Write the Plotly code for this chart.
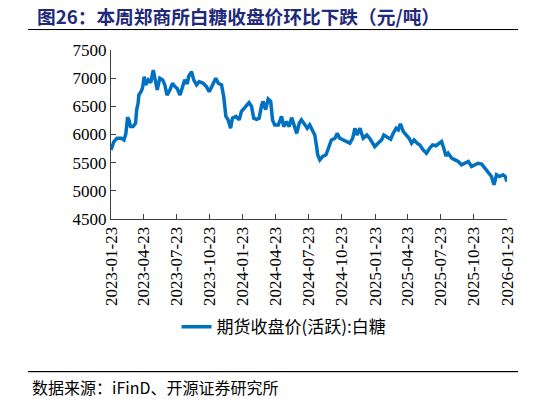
import plotly.graph_objects as go

dates = [
    "2023-01-23", "2023-01-31", "2023-02-09", "2023-02-21", "2023-02-28", "2023-03-05",
    "2023-03-10", "2023-03-14", "2023-03-18", "2023-03-25", "2023-04-01", "2023-04-04",
    "2023-04-08", "2023-04-10", "2023-04-16", "2023-04-20", "2023-04-25", "2023-04-29",
    "2023-05-06", "2023-05-13", "2023-05-20", "2023-05-24", "2023-05-31", "2023-06-07",
    "2023-06-15", "2023-06-21", "2023-06-27", "2023-07-05", "2023-07-12", "2023-07-19",
    "2023-07-25", "2023-08-02", "2023-08-09", "2023-08-15", "2023-08-22", "2023-08-26",
    "2023-09-03", "2023-09-09", "2023-09-17", "2023-09-24", "2023-10-05", "2023-10-14",
    "2023-10-22", "2023-10-31", "2023-11-09", "2023-11-16", "2023-11-25", "2023-12-01",
    "2023-12-07", "2023-12-13", "2023-12-20", "2023-12-25", "2024-01-04", "2024-01-13",
    "2024-01-19", "2024-01-27", "2024-02-03", "2024-02-09", "2024-02-16", "2024-02-22",
    "2024-03-01", "2024-03-08", "2024-03-15", "2024-03-19", "2024-03-26", "2024-04-02",
    "2024-04-09", "2024-04-14", "2024-04-20", "2024-04-30", "2024-05-09", "2024-05-15",
    "2024-05-23", "2024-05-30", "2024-06-06", "2024-06-13", "2024-06-20", "2024-06-27",
    "2024-07-03", "2024-07-13", "2024-07-19", "2024-07-26", "2024-08-03", "2024-08-09",
    "2024-08-14", "2024-08-17", "2024-08-23", "2024-08-31", "2024-09-09", "2024-09-15",
    "2024-09-24", "2024-10-04", "2024-10-10", "2024-10-17", "2024-10-26", "2024-11-05",
    "2024-11-14", "2024-11-22", "2024-11-28", "2024-12-04", "2024-12-12", "2024-12-21",
    "2024-12-31", "2025-01-08", "2025-01-16", "2025-01-22", "2025-01-31", "2025-02-10",
    "2025-02-16", "2025-02-25", "2025-03-07", "2025-03-14", "2025-03-22", "2025-03-28",
    "2025-04-03", "2025-04-11", "2025-04-18", "2025-04-27", "2025-05-04", "2025-05-11",
    "2025-05-19", "2025-05-27", "2025-06-05", "2025-06-14", "2025-06-23", "2025-07-01",
    "2025-07-10", "2025-07-19", "2025-07-26", "2025-08-01", "2025-08-07", "2025-08-13",
    "2025-08-23", "2025-09-01", "2025-09-10", "2025-09-19", "2025-09-28", "2025-10-08",
    "2025-10-17", "2025-10-26", "2025-11-04", "2025-11-14", "2025-11-23", "2025-12-02",
    "2025-12-11", "2025-12-18", "2025-12-25", "2026-01-02", "2026-01-12", "2026-01-18",
    "2026-01-23",
]

prices = [
    5727, 5874, 5934, 5934, 5904, 6010,
    6307, 6250, 6140, 6140, 6200, 6436,
    6555, 6700, 6760, 6820, 7027, 6880,
    6970, 6920, 7145, 6990, 6790, 7000,
    6970, 6880, 6700, 6790, 6910, 6850,
    6820, 6700, 6850, 6970, 6900, 7030,
    7115, 6970, 6880, 6940, 6910, 6850,
    6760, 6880, 7000, 6910, 6880, 6670,
    6320, 6260, 6110, 6290, 6320, 6260,
    6410, 6470, 6525, 6565, 6500, 6290,
    6270, 6290, 6525, 6585, 6440, 6630,
    6590, 6260, 6170, 6170, 6320, 6140,
    6230, 6140, 6300, 6170, 6020, 6200,
    6260, 6170, 6110, 6170, 6080, 5990,
    5786, 5640, 5550, 5610, 5640, 5757,
    5904, 5934, 6020, 5934, 5904, 5874,
    5846, 5934, 6110, 5990, 6110, 5934,
    5990, 5934, 5846, 5786, 5846, 5904,
    5990, 5960, 5915, 6020, 6110, 6080,
    6190, 6050, 5990, 5934, 5846, 5904,
    5846, 5815, 5727, 5668, 5757, 5815,
    5800, 5846, 5874, 5757, 5620, 5668,
    5580, 5550, 5520, 5461, 5490, 5520,
    5431, 5461, 5490, 5475, 5402, 5343,
    5255, 5107, 5285, 5255, 5285, 5255,
    5165,
]

x_ticks = [
    "2023-01-23", "2023-04-23", "2023-07-23", "2023-10-23", "2024-01-23",
    "2024-04-23", "2024-07-23", "2024-10-23", "2025-01-23", "2025-04-23",
    "2025-07-23", "2025-10-23", "2026-01-23",
]
y_ticks = [4500, 5000, 5500, 6000, 6500, 7000, 7500]

series_name = "期货收盘价(活跃):白糖"
title_text = "图26：本周郑商所白糖收盘价环比下跌（元/吨）"
source_text = "数据来源：iFinD、开源证券研究所"

fig = go.Figure()
fig.add_trace(go.Scatter(
    x=dates, y=prices, mode="lines", name=series_name,
    line=dict(color="#0070C0", width=3.5),
    hoverinfo="skip",
))

axis_color = "#404040"
tick_font = dict(family="Liberation Serif, Times New Roman, serif", size=17, color="#000000")

fig.update_layout(
    width=546, height=399,
    margin=dict(l=111, r=39, t=50, b=180),
    paper_bgcolor="white", plot_bgcolor="white",
    showlegend=True,
    legend=dict(
        x=0.437, y=-0.64, xanchor="center", yanchor="middle",
        orientation="h",
        font=dict(family="Noto Sans CJK SC", size=17, color="#000000"),
        bgcolor="rgba(0,0,0,0)",
    ),
    xaxis=dict(
        type="date",
        range=["2023-01-23", "2026-01-23"],
        tickmode="array", tickvals=x_ticks, ticktext=x_ticks,
        tickangle=-90, tickfont=tick_font,
        ticks="inside", ticklen=5, tickcolor=axis_color,
        showline=True, linecolor=axis_color, linewidth=1,
        showgrid=False, zeroline=False,
    ),
    yaxis=dict(
        range=[4500, 7500],
        tickmode="array", tickvals=y_ticks,
        tickfont=tick_font,
        ticks="inside", ticklen=5, tickcolor=axis_color,
        showline=True, linecolor=axis_color, linewidth=1,
        showgrid=False, zeroline=False,
    ),
    shapes=[
        dict(type="line", xref="paper", yref="paper",
             x0=-0.2096, x1=1.0278, y0=1.121, y1=1.121,
             line=dict(color="#000000", width=1)),
        dict(type="line", xref="paper", yref="paper",
             x0=-0.2096, x1=1.0278, y0=-0.9036, y1=-0.9036,
             line=dict(color="#000000", width=1)),
    ],
)

fig.add_annotation(
    text="<b>" + title_text + "</b>", xref="paper", yref="paper",
    x=-0.1919, y=1.207, xanchor="left", yanchor="middle", showarrow=False,
    font=dict(family="Noto Sans CJK SC", size=18.7, color="#1F2A7A"),
)
fig.add_annotation(
    text=source_text, xref="paper", yref="paper",
    x=-0.2045, y=-0.992, xanchor="left", yanchor="middle", showarrow=False,
    font=dict(family="Noto Sans CJK SC", size=16, color="#000000"),
)

# Fallback rule lines (same positions as the shapes) drawn over the page
post_js = (
    "document.body.style.margin='0';"
    "[29,371].forEach(function(t){"
    "var d=document.createElement('div');"
    "d.style.cssText='position:absolute;left:28px;width:490px;height:1px;"
    "background:#000;pointer-events:none;top:'+t+'px;';"
    "document.body.appendChild(d);});"
)

fig.write_html("out.html", config={"displayModeBar": False}, post_script=post_js)
